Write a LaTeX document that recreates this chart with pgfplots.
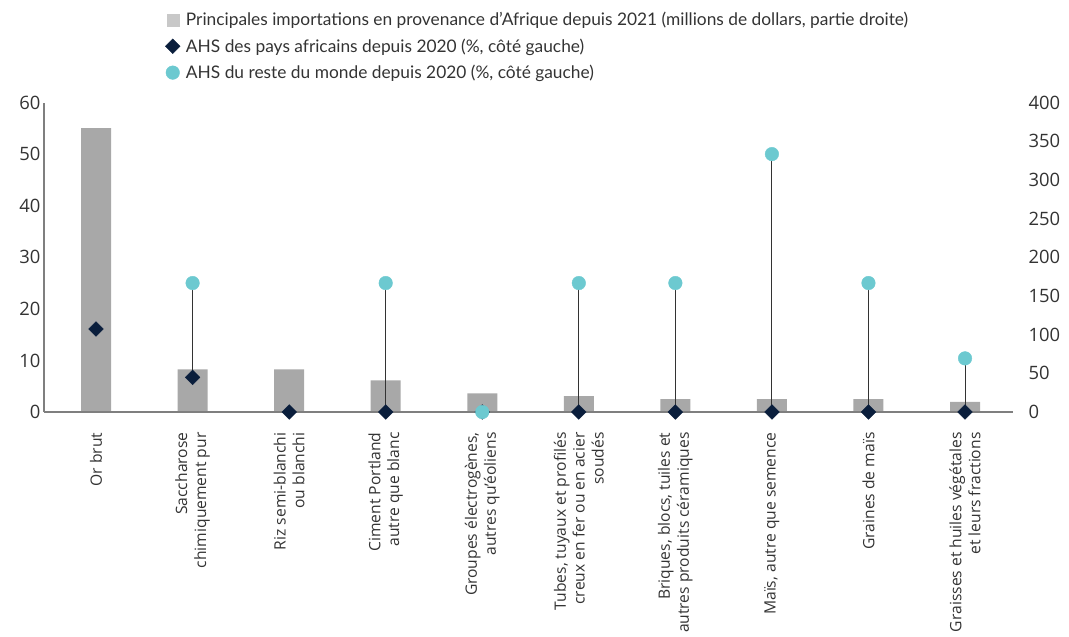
\documentclass[border=0pt]{standalone}
\usepackage{fontspec}
\setmainfont{Open Sans}
\newfontfamily\legfont{Lato}
\usepackage{pgfplots}
\pgfplotsset{compat=1.18}
\definecolor{barg}{HTML}{A8A8A8}
\definecolor{legsq}{HTML}{C8C8C8}
\definecolor{navyc}{HTML}{0A1E3C}
\definecolor{tealc}{HTML}{6CC9D0}
\definecolor{txt}{HTML}{333333}
\definecolor{axg}{HTML}{7F7F7F}
\begin{document}
\begin{tikzpicture}
\begin{axis}[
  at={(0,0)}, anchor=south west, scale only axis,
  width=969bp, height=309.5bp,
  xmin=-0.539, xmax=9.497, ymin=0, ymax=400,
  axis y line*=right, hide x axis,
  y axis line style={draw=none},
  ytick={0,50,...,400}, major tick length=0pt,
  yticklabel style={font=\fontsize{18.5}{20}\selectfont, text=txt, anchor=west, xshift=12bp},
  /pgf/number format/assume math mode=true,
  clip=false,
]
\addplot[ybar, bar width=30bp, fill=barg, draw=none] coordinates {
(0,367) (1,55) (2,55) (3,41) (4,24) (5,20.5) (6,16.8) (7,16.8) (8,16.8) (9,13)};
\end{axis}
\begin{axis}[
  at={(0,0)}, anchor=south west, scale only axis,
  width=969bp, height=309.5bp,
  xmin=-0.539, xmax=9.497, ymin=0, ymax=60,
  axis x line*=bottom, axis y line*=left,
  axis line style={draw=axg, line width=1.3bp, -},
  ytick={0,10,...,60}, xtick={0,...,9},
  xticklabels={{Or brut},{Saccharose\\chimiquement pur},{Riz semi-blanchi\\ou blanchi},{Ciment Portland\\autre que blanc},{Groupes électrogènes,\\autres qu’éoliens},{Tubes, tuyaux et profilés\\creux en fer ou en acier\\soudés},{Briques, blocs, tuiles et\\autres produits céramiques},{Maïs, autre que semence},{Graines de maïs},{Graisses et huiles végétales\\et leurs fractions}},
  major tick length=0pt,
  xticklabel shift=17bp,
  xticklabel style={rotate=90, anchor=east, align=right, font=\fontsize{15.7}{19}\selectfont, text=txt},
  yticklabel style={font=\fontsize{18.5}{20}\selectfont, text=txt},
  /pgf/number format/assume math mode=true,
  clip=false,
  legend style={at={(0.122,1.305)}, anchor=north west, draw=none, fill=none,
    font=\legfont\fontsize{17.4}{20}\selectfont, text=txt, row sep=7.5bp},
  legend cell align=left,
  legend image code/.code={\draw[mark repeat=2,mark phase=2,#1] plot coordinates {(0bp,0bp)(6bp,0bp)(12bp,0bp)};\path (17bp,0bp);},
]
\addlegendimage{legend image code/.code={\fill[legsq] (0bp,-6bp) rectangle (12bp,6bp);\path (17bp,0bp);}}
\addlegendentry{Principales importations en provenance d’Afrique depuis 2021 (millions de dollars, partie droite)}
\addplot[txt, line width=1bp, unbounded coords=jump, forget plot] coordinates {
(1,6.7) (1,25) (3,nan) (3,0) (3,25) (5,nan) (5,0) (5,25) (6,nan) (6,0) (6,25)
(7,nan) (7,0) (7,50) (8,nan) (8,0) (8,25) (9,nan) (9,0) (9,10.4)};
\addplot[only marks, mark=square*, mark options={rotate=45, fill=navyc, draw=navyc}, mark size=5.2bp] coordinates {
(0,16.1) (1,6.7) (2,0) (3,0) (4,0) (5,0) (6,0) (7,0) (8,0) (9,0)};
\addlegendentry{AHS des pays africains depuis 2020 (\%, côté gauche)}
\addplot[only marks, mark=*, mark options={fill=tealc, draw=tealc}, mark size=6.8bp] coordinates {
(1,25) (3,25) (4,0) (5,25) (6,25) (7,50) (8,25) (9,10.4)};
\addlegendentry{AHS du reste du monde depuis 2020 (\%, côté gauche)}
\end{axis}
\pgfresetboundingbox
\useasboundingbox (-44bp,-225bp) rectangle (1025bp,412bp);
\end{tikzpicture}
\end{document}
